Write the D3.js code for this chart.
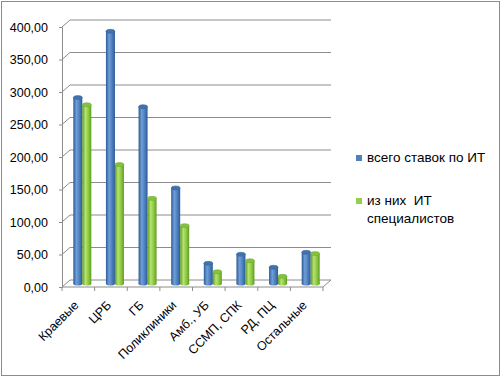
<!DOCTYPE html>
<html>
<head>
<meta charset="utf-8">
<script src="https://cdn.jsdelivr.net/npm/d3@7"></script>
<style>
  body { margin: 0; background: #fff; }
  text { font-family: "Liberation Sans", Arial, sans-serif; fill: #000; }
</style>
</head>
<body>
<div id="chart"></div>
<script>
// categories and series
var categories = ["Краевые", "ЦРБ", "ГБ", "Поликлиники", "Амб., УБ", "ССМП, СПК", "РД, ПЦ", "Остальные"];
var totalRates = [286, 388, 272, 147, 31, 45, 25, 48];
var itSpecialists = [275, 183, 131, 89, 18, 35, 11, 46];
var seriesNames = ["всего ставок по ИТ", "из них  ИТ специалистов"];
var yTicks = [0, 50, 100, 150, 200, 250, 300, 350, 400];

var W = 501, H = 377;
var depth = {dx: 8, dy: -7};   // offset of back wall

var svg = d3.select("#chart").append("svg")
    .attr("width", W)
    .attr("height", H);

// outer frame
svg.append("rect")
    .attr("x", 1.5).attr("y", 1.5)
    .attr("width", W - 3).attr("height", H - 3)
    .attr("fill", "#fff")
    .attr("stroke", "#8c8c8c");

var defs = svg.append("defs");
function cylGradient(id, dark, light, mid) {
    var g = defs.append("linearGradient").attr("id", id)
        .attr("x1", "0%").attr("x2", "100%").attr("y1", "0%").attr("y2", "0%");
    g.append("stop").attr("offset", "0%").attr("stop-color", dark);
    g.append("stop").attr("offset", "35%").attr("stop-color", light);
    g.append("stop").attr("offset", "70%").attr("stop-color", mid);
    g.append("stop").attr("offset", "100%").attr("stop-color", dark);
}
cylGradient("gBlue", "#2c5a94", "#6f9fd8", "#4a7dbd");
cylGradient("gGreen", "#5f9a26", "#b4e56e", "#8cc540");

var colors = ["#4f81bd", "#92d050"];
var topColors = ["#3f72b0", "#84c43c"];
var fills = ["url(#gBlue)", "url(#gGreen)"];

// scales (front plane)
var x = d3.scaleBand()
    .domain(categories)
    .range([62, 323]);

var y = d3.scaleLinear()
    .domain([0, 400])
    .range([287, 27]);

// back wall gridlines + side wall diagonals
var grid = svg.append("g").attr("stroke", "#8c8c8c").attr("stroke-width", 1).attr("fill", "none");
yTicks.forEach(function(t) {
    var yf = y(t);
    grid.append("line")
        .attr("x1", 62).attr("y1", yf)
        .attr("x2", 62 + depth.dx).attr("y2", yf + depth.dy);
    grid.append("line")
        .attr("x1", 62 + depth.dx).attr("y1", yf + depth.dy)
        .attr("x2", 323 + depth.dx).attr("y2", yf + depth.dy);
});

// floor front edge and right edge
grid.append("line")
    .attr("x1", 62).attr("y1", y(0))
    .attr("x2", 323).attr("y2", y(0));
grid.append("line")
    .attr("x1", 323).attr("y1", y(0))
    .attr("x2", 323 + depth.dx).attr("y2", y(0) + depth.dy);

// category ticks
var bounds = categories.map(function(c) { return x(c); }).concat([323]);
bounds.forEach(function(b) {
    grid.append("line")
        .attr("x1", b).attr("y1", y(0))
        .attr("x2", b).attr("y2", y(0) + 4);
});

// Y axis
var yAxis = svg.append("g")
    .attr("transform", "translate(62,0)")
    .call(d3.axisLeft(y).tickValues(yTicks).tickSize(3).tickPadding(11)
        .tickFormat(function(d) { return d.toFixed(2).replace(".", ","); }));
yAxis.select(".domain").attr("stroke", "#8c8c8c");
yAxis.selectAll(".tick line").attr("stroke", "#8c8c8c");
yAxis.selectAll("text")
    .style("font-family", "'Liberation Sans', Arial, sans-serif")
    .style("font-size", "12.5px")
    .attr("fill", "#000");

// bars as cylinders at mid depth
var barW = 9;
var mx = depth.dx / 2, my = depth.dy / 2;
var series = [totalRates, itSpecialists];
var bars = svg.append("g");
series.forEach(function(vals, s) {
    var gs = bars.append("g");
    categories.forEach(function(c, i) {
        var cx = x(c) + x.bandwidth() / 2 + mx;
        var x0 = cx - barW + s * barW;
        var yTop = y(vals[i]) + my;
        var yBot = y(0) + my;
        var rx = barW / 2, ry = 2;
        // bottom ellipse
        gs.append("ellipse")
            .attr("cx", x0 + rx).attr("cy", yBot)
            .attr("rx", rx).attr("ry", ry)
            .attr("fill", fills[s]);
        gs.append("rect")
            .attr("x", x0).attr("y", yTop)
            .attr("width", barW).attr("height", yBot - yTop)
            .attr("fill", fills[s]);
        gs.append("ellipse")
            .attr("cx", x0 + rx).attr("cy", yTop)
            .attr("rx", rx).attr("ry", ry)
            .attr("fill", topColors[s])
            .attr("stroke", d3.color(colors[s]).darker(0.6))
            .attr("stroke-width", 0.6);
    });
});

// category labels
svg.append("g").selectAll("text")
    .data(categories)
    .enter().append("text")
    .attr("transform", function(d) {
        return "translate(" + (x(d) + x.bandwidth() / 2 + 1) + ",306) rotate(-45)";
    })
    .attr("text-anchor", "end")
    .style("font-size", "12.5px")
    .text(function(d) { return d; });

// legend
var legend = svg.append("g").style("font-size", "13.5px");
legend.append("rect").attr("x", 356).attr("y", 155).attr("width", 6).attr("height", 6).attr("fill", colors[0]);
legend.append("text").attr("x", 367).attr("y", 162).text(seriesNames[0]);
legend.append("rect").attr("x", 356).attr("y", 198).attr("width", 6).attr("height", 6).attr("fill", colors[1]);
legend.append("text").attr("x", 367).attr("y", 205).text("из них  ИТ").style("white-space", "pre");
legend.append("text").attr("x", 367).attr("y", 223).text("специалистов");
</script>
</body>
</html>
